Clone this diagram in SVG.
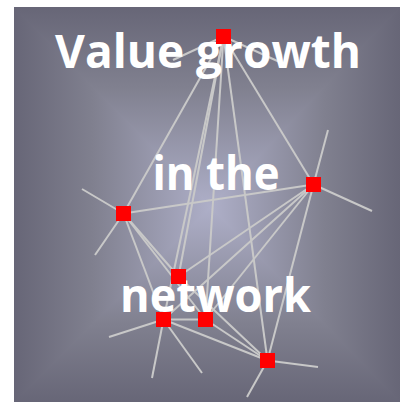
<svg xmlns="http://www.w3.org/2000/svg" width="400" height="402" viewBox="0 0 400 402">
<defs>
<linearGradient id="gT" gradientUnits="userSpaceOnUse" x1="0" y1="7" x2="0" y2="207"><stop offset="0" stop-color="#676677"/><stop offset="0.4" stop-color="#80808f"/><stop offset="1" stop-color="#aeafc8"/></linearGradient>
<linearGradient id="gB" gradientUnits="userSpaceOnUse" x1="0" y1="402" x2="0" y2="207"><stop offset="0" stop-color="#676677"/><stop offset="0.4" stop-color="#80808f"/><stop offset="1" stop-color="#aeafc8"/></linearGradient>
<linearGradient id="gL" gradientUnits="userSpaceOnUse" x1="14" y1="0" x2="211" y2="0"><stop offset="0" stop-color="#676677"/><stop offset="0.4" stop-color="#80808f"/><stop offset="1" stop-color="#aeafc8"/></linearGradient>
<linearGradient id="gR" gradientUnits="userSpaceOnUse" x1="400" y1="0" x2="211" y2="0"><stop offset="0" stop-color="#676677"/><stop offset="0.4" stop-color="#80808f"/><stop offset="1" stop-color="#aeafc8"/></linearGradient>
<clipPath id="bg"><rect x="14" y="7" width="386" height="395"/></clipPath>
</defs>
<style>
.e{stroke:#c8c8c8;stroke-width:2;fill:none}
.n{fill:#ff0000}
.t{font-family:"Open Sans","Noto Sans","Liberation Sans",sans-serif;font-weight:700;font-size:47px;fill:#ffffff;text-anchor:middle}
</style>
<g id="background" clip-path="url(#bg)">
<polygon points="14,7 400,7 211,207" fill="url(#gT)" stroke="url(#gT)" stroke-width="1.5"/>
<polygon points="14,402 400,402 211,207" fill="url(#gB)" stroke="url(#gB)" stroke-width="1.5"/>
<polygon points="14,7 14,402 211,207" fill="url(#gL)" stroke="url(#gL)" stroke-width="1.5"/>
<polygon points="400,7 400,402 211,207" fill="url(#gR)" stroke="url(#gR)" stroke-width="1.5"/>
</g>
<g id="connectors" class="e">
<line x1="223.5" y1="36.5" x2="173" y2="60"/>
<line x1="223.5" y1="36.5" x2="284" y2="64"/>
<line x1="223.5" y1="36.5" x2="313.5" y2="184.5"/>
<line x1="223.5" y1="36.5" x2="123.5" y2="213.5"/>
<line x1="223.5" y1="36.5" x2="178.5" y2="276.5"/>
<line x1="223.5" y1="36.5" x2="163.5" y2="319.5"/>
<line x1="223.5" y1="36.5" x2="205.5" y2="319.5"/>
<line x1="223.5" y1="36.5" x2="267.5" y2="360.5"/>
<line x1="313.5" y1="184.5" x2="328" y2="130"/>
<line x1="313.5" y1="184.5" x2="372" y2="211"/>
<line x1="313.5" y1="184.5" x2="123.5" y2="213.5"/>
<line x1="313.5" y1="184.5" x2="178.5" y2="276.5"/>
<line x1="313.5" y1="184.5" x2="163.5" y2="319.5"/>
<line x1="313.5" y1="184.5" x2="205.5" y2="319.5"/>
<line x1="313.5" y1="184.5" x2="267.5" y2="360.5"/>
<line x1="123.5" y1="213.5" x2="82" y2="189"/>
<line x1="123.5" y1="213.5" x2="95" y2="255"/>
<line x1="123.5" y1="213.5" x2="178.5" y2="276.5"/>
<line x1="123.5" y1="213.5" x2="163.5" y2="319.5"/>
<line x1="123.5" y1="213.5" x2="205.5" y2="319.5"/>
<line x1="178.5" y1="276.5" x2="267.5" y2="360.5"/>
<line x1="163.5" y1="319.5" x2="205.5" y2="319.5"/>
<line x1="163.5" y1="319.5" x2="267.5" y2="360.5"/>
<line x1="163.5" y1="319.5" x2="109" y2="337"/>
<line x1="163.5" y1="319.5" x2="152" y2="378"/>
<line x1="163.5" y1="319.5" x2="202" y2="373"/>
<line x1="205.5" y1="319.5" x2="267.5" y2="360.5"/>
<line x1="267.5" y1="360.5" x2="318" y2="367"/>
<line x1="267.5" y1="360.5" x2="247" y2="397"/>
</g>
<g id="title">
<text class="t" x="208" y="68" textLength="306" lengthAdjust="spacingAndGlyphs">Value growth</text>
<text class="t" x="216" y="190" textLength="127" lengthAdjust="spacingAndGlyphs">in the</text>
<text class="t" x="215.5" y="312" textLength="191" lengthAdjust="spacingAndGlyphs">network</text>
</g>
<g id="n1"><rect class="n" x="216" y="29" width="15" height="15"/></g>
<g id="n2"><rect class="n" x="306" y="177" width="15" height="15"/></g>
<g id="n3"><rect class="n" x="116" y="206" width="15" height="15"/></g>
<g id="n4"><rect class="n" x="171" y="269" width="15" height="15"/></g>
<g id="n5"><rect class="n" x="156" y="312" width="15" height="15"/></g>
<g id="n6"><rect class="n" x="198" y="312" width="15" height="15"/></g>
<g id="n7"><rect class="n" x="260" y="353" width="15" height="15"/></g>
</svg>
